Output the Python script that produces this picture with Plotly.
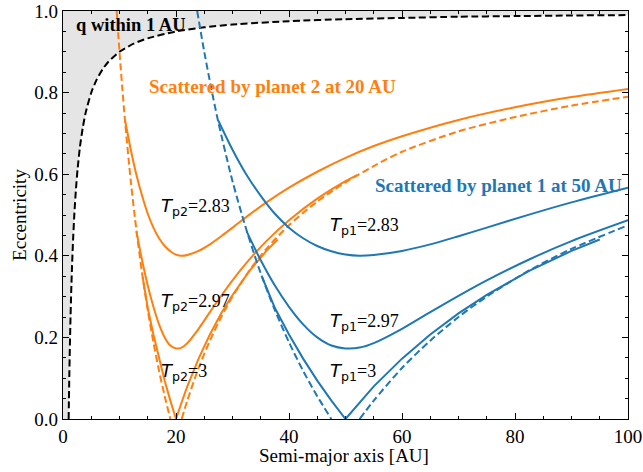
import plotly.graph_objects as go

# ---------------- data ----------------
# q within 1 AU boundary (black dashed)
q1_a = [1.0, 1.05, 1.1, 1.2, 1.3, 1.45, 1.6, 1.8, 2.0, 2.3, 2.6, 3.0, 3.5, 4.0, 5.0, 6.0, 7.0, 8.0,
        10.0, 12.5, 15.0, 20.0, 25.0, 30.0, 40.0, 50.0, 60.0, 70.0, 80.0, 90.0, 100.0]
q1_e = [0.0, 0.048, 0.091, 0.167, 0.231, 0.31, 0.375, 0.444, 0.5, 0.565, 0.615, 0.667, 0.714, 0.75,
        0.8, 0.833, 0.857, 0.875, 0.9, 0.92, 0.933, 0.95, 0.96, 0.967, 0.975, 0.98, 0.983, 0.986,
        0.9875, 0.989, 0.99]

# planet 2 at 20 AU (orange)
p2_dash_left_a = [9.5, 10.0, 10.5, 11.0, 12.0, 13.0, 14.0, 15.0, 16.0, 17.0, 18.0, 19.0]
p2_dash_left_e = [1.0, 0.9, 0.81, 0.727, 0.583, 0.462, 0.357, 0.267, 0.188, 0.118, 0.056, 0.0]
p2_dash_right_a = [21.0, 22.0, 24.0, 26.0, 28.0, 30.0, 33.0, 36.0, 40.0, 45.0, 50.0, 55.0, 60.0,
                   70.0, 80.0, 90.0, 100.0]
p2_dash_right_e = [0.0, 0.045, 0.125, 0.192, 0.25, 0.3, 0.364, 0.417, 0.475, 0.533, 0.58, 0.62,
                   0.655, 0.705, 0.74, 0.768, 0.79]

p2_t283_a = [11.0, 12.0, 13.0, 14.0, 15.0, 16.0, 17.0, 18.0, 19.0, 20.0, 21.0, 22.0, 24.0, 26.0,
             28.0, 30.0, 33.0, 36.0, 40.0, 45.0, 50.0, 55.0, 60.0, 70.0, 80.0, 90.0, 100.0]
p2_t283_e = [0.731, 0.66, 0.598, 0.547, 0.503, 0.469, 0.443, 0.424, 0.411, 0.403, 0.4, 0.402,
             0.412, 0.428, 0.448, 0.469, 0.501, 0.531, 0.567, 0.606, 0.64, 0.669, 0.693, 0.733,
             0.764, 0.789, 0.809]
p2_t297_a = [13.0, 14.0, 15.0, 16.0, 17.0, 18.0, 19.0, 20.0, 21.0, 22.0, 24.0, 26.0, 28.0, 30.0,
             33.0, 36.0, 40.0, 45.0, 50.0, 52.0]
p2_t297_e = [0.46, 0.389, 0.327, 0.275, 0.232, 0.2, 0.18, 0.173, 0.175, 0.186, 0.221, 0.262,
             0.302, 0.34, 0.391, 0.436, 0.487, 0.54, 0.583, 0.598]
p2_t3_a = [14.1, 15.0, 16.0, 17.0, 18.0, 19.0, 20.0, 21.0, 22.0, 24.0, 26.0, 28.0, 30.0, 33.0,
           36.0, 38.0]
p2_t3_e = [0.348, 0.272, 0.207, 0.148, 0.094, 0.045, 0.0, 0.041, 0.08, 0.148, 0.207, 0.259, 0.304,
           0.363, 0.412, 0.44]

# planet 1 at 50 AU (blue)
p1_dash_left_a = [23.75, 25.0, 26.25, 27.5, 30.0, 32.5, 35.0, 37.5, 40.0, 42.5, 45.0, 47.5]
p1_dash_left_e = [1.0, 0.9, 0.81, 0.727, 0.583, 0.462, 0.357, 0.267, 0.188, 0.118, 0.056, 0.0]
p1_dash_right_a = [52.5, 55.0, 60.0, 65.0, 70.0, 75.0, 82.5, 90.0, 100.0]
p1_dash_right_e = [0.0, 0.045, 0.125, 0.192, 0.25, 0.3, 0.364, 0.417, 0.475]

p1_t283_a = [27.5, 30.0, 32.5, 35.0, 37.5, 40.0, 42.5, 45.0, 47.5, 50.0, 52.5, 55.0, 60.0, 65.0,
             70.0, 75.0, 82.5, 90.0, 100.0]
p1_t283_e = [0.731, 0.66, 0.598, 0.547, 0.503, 0.469, 0.443, 0.424, 0.411, 0.403, 0.4, 0.402,
             0.412, 0.428, 0.448, 0.469, 0.501, 0.531, 0.567]
p1_t297_a = [32.5, 35.0, 37.5, 40.0, 42.5, 45.0, 47.5, 50.0, 52.5, 55.0, 60.0, 65.0, 70.0, 75.0,
             82.5, 90.0, 100.0]
p1_t297_e = [0.46, 0.389, 0.327, 0.275, 0.232, 0.2, 0.18, 0.173, 0.175, 0.186, 0.221, 0.262,
             0.302, 0.34, 0.391, 0.436, 0.487]
p1_t3_a = [35.25, 37.5, 40.0, 42.5, 45.0, 47.5, 50.0, 52.5, 55.0, 60.0, 65.0, 70.0, 75.0, 82.5,
           90.0, 95.0]
p1_t3_e = [0.348, 0.272, 0.207, 0.148, 0.094, 0.045, 0.0, 0.041, 0.08, 0.148, 0.207, 0.259, 0.304,
           0.363, 0.412, 0.44]

x_ticks = [0, 20, 40, 60, 80, 100]
y_ticks = [0.0, 0.2, 0.4, 0.6, 0.8, 1.0]

# ---------------- styling ----------------
ORANGE = "#ff7f0e"
BLUE = "#1f77b4"
SERIF = "Liberation Serif"
SANS = "DejaVu Sans"
LW = 2
DASH = "7px,3.5px"

fig = go.Figure()

# grey region: perihelion within 1 AU
fig.add_trace(go.Scatter(
    x=[0.0] + q1_a + [100.0, 0.0], y=[0.0] + q1_e + [1.0, 1.0],
    fill="toself", fillcolor="#e5e5e5", line=dict(width=0), mode="lines",
    hoverinfo="skip", showlegend=False))
fig.add_trace(go.Scatter(x=q1_a, y=q1_e, mode="lines",
                         line=dict(color="black", width=LW, dash=DASH, shape="spline",
                                   smoothing=0.6),
                         showlegend=False))

def curve(a, e, c, dash=None, smooth=True):
    line = dict(color=c, width=LW)
    if dash:
        line["dash"] = dash
    if smooth:
        line["shape"] = "spline"
        line["smoothing"] = 0.8
    fig.add_trace(go.Scatter(x=a, y=e, mode="lines", line=line, showlegend=False))

curve(p2_t283_a, p2_t283_e, ORANGE)
curve(p2_t297_a, p2_t297_e, ORANGE)
curve(p2_t3_a, p2_t3_e, ORANGE, smooth=False)
curve(p2_dash_left_a, p2_dash_left_e, ORANGE, dash=DASH)
curve(p2_dash_right_a, p2_dash_right_e, ORANGE, dash=DASH)

curve(p1_t283_a, p1_t283_e, BLUE)
curve(p1_t297_a, p1_t297_e, BLUE)
curve(p1_t3_a, p1_t3_e, BLUE, smooth=False)
curve(p1_dash_left_a, p1_dash_left_e, BLUE, dash=DASH)
curve(p1_dash_right_a, p1_dash_right_e, BLUE, dash=DASH)

def tlabel(sub, val, x, y):
    txt = (f'<span style="font-family:{SANS}"><i>T</i><sub>{sub}</sub></span>={val}')
    fig.add_annotation(x=x, y=y, xref="x", yref="y", text=txt, showarrow=False,
                       xanchor="left", yanchor="middle",
                       font=dict(family=SERIF, size=18, color="black"))

tlabel("p2", "2.83", 17.0, 0.52)
tlabel("p2", "2.97", 17.0, 0.288)
tlabel("p2", "3", 17.0, 0.116)
tlabel("p1", "2.83", 46.9, 0.474)
tlabel("p1", "2.97", 46.9, 0.237)
tlabel("p1", "3", 46.9, 0.114)

fig.add_annotation(x=2.0, y=0.966, xref="x", yref="y", text="<b>q within 1 AU</b>",
                   showarrow=False, xanchor="left", yanchor="middle",
                   font=dict(family=SERIF, size=18.5, color="black"))
fig.add_annotation(x=14.9, y=0.816, xref="x", yref="y",
                   text="<b>Scattered by planet 2 at 20 AU</b>",
                   showarrow=False, xanchor="left", yanchor="middle",
                   font=dict(family=SERIF, size=19, color=ORANGE))
fig.add_annotation(x=54.8, y=0.573, xref="x", yref="y",
                   text="<b>Scattered by planet 1 at 50 AU</b>",
                   showarrow=False, xanchor="left", yanchor="middle",
                   font=dict(family=SERIF, size=19, color=BLUE))

# x-axis title placed just under the tick labels
fig.add_annotation(x=0.497, y=-0.089, xref="paper", yref="paper",
                   text="Semi-major axis [AU]", showarrow=False,
                   xanchor="center", yanchor="middle",
                   font=dict(family=SERIF, size=19, color="black"))

axis_common = dict(
    showgrid=False, zeroline=False, showline=True, linecolor="black", linewidth=1.2,
    mirror="allticks", ticks="inside", ticklen=6, tickwidth=1, tickcolor="black",
    tickfont=dict(family=SERIF, size=19, color="black"), automargin=False,
    ticklabeloverflow="allow",
)
fig.update_xaxes(range=[0, 100], tickvals=x_ticks, ticktext=[str(v) for v in x_ticks],
                 minor=dict(dtick=5, ticks="inside", ticklen=3, tickcolor="black", tickwidth=1),
                 **axis_common)
fig.update_yaxes(range=[0, 1], tickvals=y_ticks, ticktext=[f"{v:.1f}" for v in y_ticks],
                 minor=dict(dtick=0.05, ticks="inside", ticklen=3, tickcolor="black",
                            tickwidth=1),
                 title=dict(text="Eccentricity", font=dict(family=SERIF, size=19, color="black"),
                            standoff=2),
                 **axis_common)

fig.update_layout(width=643, height=472, margin=dict(l=63, r=15, t=11, b=53),
                  plot_bgcolor="white", paper_bgcolor="white", showlegend=False)

# remove the browser's default 8px body margin so the figure sits at the page corner
fig.write_html("out.html", config={"displayModeBar": False},
               post_script="document.body.style.margin='0';")
